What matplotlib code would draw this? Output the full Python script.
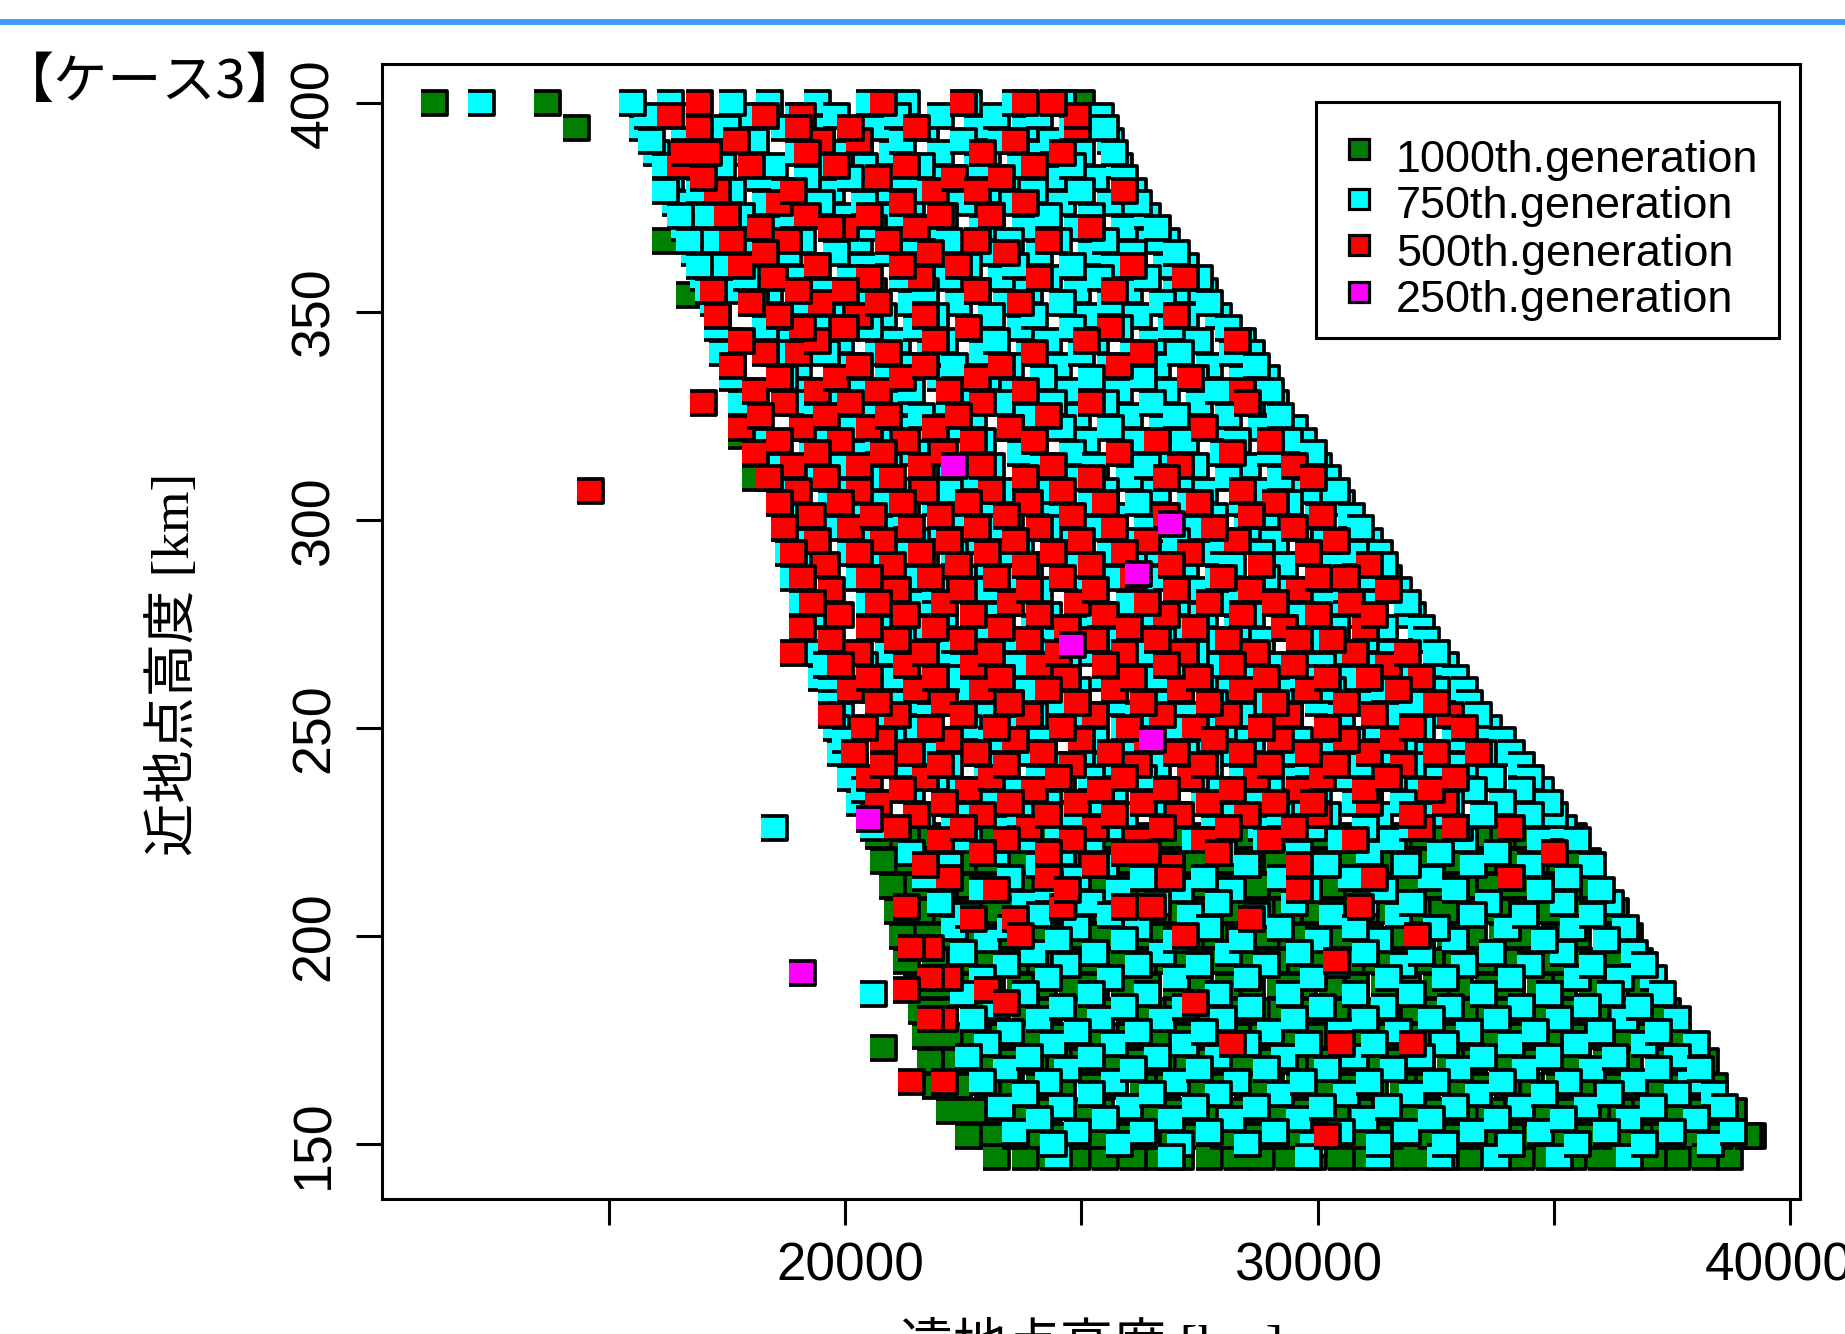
#!/usr/bin/env python3
"""Perigee / apogee altitude scatter by GA generation (case 3)."""

import matplotlib
matplotlib.use('Agg')
import matplotlib.pyplot as plt
from matplotlib.lines import Line2D
from matplotlib.markers import MarkerStyle
from matplotlib.patches import Rectangle
from matplotlib.transforms import ScaledTranslation

# apogee values are kept in hundreds of km, perigee values in km
# each *_y entry is one perigee level, *_x the apogee values read at that level
green_y = [400, 394, 367, 354, 320, 310, 224, 218, 212, 206, 200, 194, 188, 182, 176, 173, 170, 164, 158, 152, 147]
green_x = [
    [113, 137, 250],
    [143],
    [162],
    [167],
    [178],
    [181],
    [207, 213, 218, 224, 229, 235, 240, 246, 251, 257, 262, 268, 273, 279, 284, 290, 295, 301, 306, 312, 317, 323, 328, 334, 339, 345, 350, 354],
    [208, 214, 219, 225, 230, 236, 242, 247, 253, 258, 264, 269, 275, 280, 286, 291, 297, 302, 308, 313, 319, 324, 330, 335, 341, 346, 352, 357],
    [210, 215, 221, 226, 232, 237, 243, 248, 254, 259, 265, 270, 276, 281, 287, 292, 298, 303, 309, 314, 320, 325, 331, 336, 342, 347, 353, 358],
    [211, 216, 222, 228, 233, 239, 244, 250, 255, 261, 266, 272, 277, 283, 288, 294, 299, 305, 310, 316, 321, 327, 332, 338, 343, 349, 354, 360, 363],
    [212, 218, 223, 229, 234, 240, 245, 251, 256, 262, 267, 273, 278, 284, 289, 295, 300, 306, 311, 317, 322, 328, 333, 339, 344, 350, 355, 361, 366],
    [213, 219, 225, 230, 236, 241, 247, 252, 258, 263, 269, 274, 280, 285, 291, 296, 302, 307, 313, 318, 324, 329, 335, 340, 346, 351, 357, 362, 368],
    [215, 220, 226, 231, 237, 242, 248, 253, 259, 264, 270, 275, 281, 286, 292, 297, 303, 308, 314, 319, 325, 330, 336, 341, 347, 352, 358, 363, 368, 371],
    [216, 221, 227, 232, 238, 243, 249, 254, 260, 265, 271, 276, 282, 287, 293, 298, 304, 309, 315, 320, 326, 331, 337, 342, 348, 353, 359, 364, 370, 374],
    [217, 222, 228, 233, 239, 244, 250, 255, 261, 266, 272, 277, 283, 288, 294, 299, 305, 310, 316, 321, 327, 332, 338, 343, 349, 354, 360, 365, 371, 376],
    [208],
    [218, 223, 229, 234, 240, 245, 251, 256, 262, 267, 273, 278, 284, 289, 295, 300, 306, 311, 317, 322, 328, 333, 339, 344, 350, 355, 361, 366, 372, 377, 382],
    [219, 224, 230, 235, 241, 246, 252, 257, 263, 268, 274, 279, 285, 290, 296, 301, 307, 312, 318, 323, 329, 334, 340, 345, 351, 356, 362, 367, 373, 378, 384],
    [222, 227, 232, 238, 243, 249, 254, 260, 265, 271, 276, 282, 287, 293, 298, 304, 309, 315, 320, 326, 331, 337, 342, 348, 353, 359, 364, 370, 375, 381, 386, 388],
    [226, 231, 236, 242, 247, 253, 258, 264, 269, 275, 280, 286, 291, 297, 302, 308, 313, 319, 324, 330, 335, 341, 346, 352, 357, 363, 368, 374, 379, 385, 391, 392],
    [232, 238, 244, 249, 255, 261, 266, 271, 277, 283, 288, 294, 299, 305, 310, 316, 321, 327, 332, 338, 343, 349, 354, 360, 365, 371, 376, 382, 387],
]

cyan_y = [400, 397, 394, 391, 388, 385, 382, 379, 376, 373, 370, 367, 364, 361, 358, 355, 352, 349, 346, 343, 340, 337, 334, 331, 328, 325, 322, 319, 316, 313,
          310, 307, 304, 301, 298, 295, 292, 289, 286, 283, 280, 277, 274, 271, 268, 265, 262, 259, 256, 253, 250, 247, 244, 241, 238, 235, 232, 229, 226,
          223, 220, 217, 214, 211, 208, 205, 202, 199, 196, 193, 190, 186, 183, 180, 177, 174, 171, 168, 165, 162, 159, 156, 153, 150, 147]
cyan_x = [
    [123, 155, 163, 176, 184, 194, 205, 213, 226, 236, 246],
    [158, 168, 179, 190, 198, 211, 220, 232, 241, 254],
    [157, 166, 175, 187, 195, 207, 217, 228, 238, 248, 255],
    [159, 171, 181, 193, 203, 212, 225, 233, 244, 256],
    [160, 168, 179, 190, 199, 210, 220, 230, 241, 250, 257],
    [162, 168, 174, 185, 195, 204, 216, 228, 237, 248, 258],
    [163, 170, 182, 192, 201, 213, 222, 234, 244, 253, 259],
    [162, 169, 176, 187, 197, 209, 218, 230, 240, 250, 261],
    [164, 173, 183, 195, 204, 214, 225, 236, 246, 256, 262],
    [165, 171, 178, 189, 199, 211, 221, 231, 243, 252, 264],
    [166, 175, 186, 197, 206, 217, 229, 238, 249, 259, 266],
    [167, 173, 180, 191, 203, 213, 222, 235, 245, 255, 265, 268],
    [168, 177, 188, 198, 209, 220, 230, 241, 252, 261, 270],
    [169, 175, 182, 193, 204, 216, 226, 236, 248, 257, 268, 272],
    [170, 179, 190, 201, 212, 222, 233, 243, 254, 264, 275],
    [171, 177, 184, 196, 206, 217, 228, 239, 249, 260, 270, 276],
    [172, 181, 192, 203, 214, 224, 234, 246, 256, 267, 277],
    [173, 186, 197, 208, 219, 231, 240, 251, 262, 272, 279],
    [173, 183, 194, 205, 215, 227, 237, 248, 258, 269, 281],
    [175, 188, 199, 211, 221, 232, 243, 253, 265, 275, 284],
    [174, 185, 196, 207, 218, 229, 239, 250, 261, 271, 282, 286],
    [176, 190, 201, 212, 223, 235, 245, 256, 266, 277, 287],
    [176, 187, 198, 209, 220, 230, 242, 252, 263, 274, 284, 289],
    [178, 192, 203, 214, 225, 236, 247, 258, 268, 279, 290],
    [178, 189, 200, 211, 222, 233, 244, 255, 265, 275, 286, 291],
    [180, 194, 205, 216, 227, 238, 249, 260, 270, 281, 292],
    [180, 191, 202, 213, 224, 235, 246, 256, 267, 278, 288, 295],
    [182, 196, 207, 218, 229, 240, 251, 262, 272, 283, 294, 297],
    [182, 193, 204, 215, 226, 237, 248, 258, 269, 280, 290, 299],
    [184, 198, 209, 220, 231, 242, 253, 264, 274, 285, 296, 300],
    [184, 195, 206, 217, 228, 239, 250, 260, 271, 281, 292, 302],
    [186, 200, 211, 222, 233, 244, 255, 266, 276, 287, 298, 304],
    [186, 197, 208, 219, 230, 241, 252, 262, 273, 284, 294, 305],
    [187, 202, 213, 224, 235, 246, 257, 268, 278, 289, 300, 307],
    [187, 199, 210, 221, 232, 243, 254, 264, 275, 285, 296, 309],
    [189, 204, 215, 226, 237, 248, 259, 270, 280, 291, 302, 311],
    [188, 201, 212, 223, 234, 245, 256, 266, 277, 288, 298, 308, 313],
    [190, 206, 217, 228, 239, 250, 261, 272, 282, 293, 304, 314],
    [189, 203, 214, 225, 236, 247, 258, 268, 279, 289, 300, 310, 315],
    [191, 208, 219, 230, 241, 252, 263, 274, 284, 295, 306, 317],
    [191, 205, 216, 227, 238, 249, 260, 270, 281, 292, 302, 312, 319],
    [193, 210, 221, 232, 243, 254, 265, 276, 286, 297, 308, 320],
    [193, 207, 218, 229, 240, 251, 262, 272, 283, 293, 304, 314, 322],
    [195, 212, 223, 234, 245, 256, 267, 278, 288, 299, 310, 323],
    [194, 209, 220, 231, 242, 253, 264, 274, 285, 296, 306, 316, 325],
    [196, 204, 214, 225, 236, 247, 258, 269, 280, 290, 301, 312, 327],
    [195, 211, 222, 233, 244, 255, 266, 276, 287, 297, 308, 318, 329],
    [197, 206, 216, 227, 238, 249, 260, 271, 282, 292, 303, 314, 325, 331],
    [197, 213, 224, 235, 246, 257, 268, 278, 289, 300, 310, 320, 332],
    [199, 208, 218, 229, 240, 251, 262, 273, 284, 294, 305, 316, 327, 334],
    [198, 215, 226, 237, 248, 259, 270, 280, 291, 302, 312, 322, 336],
    [200, 210, 220, 231, 242, 253, 264, 275, 286, 296, 307, 318, 329, 339],
    [199, 217, 228, 239, 250, 261, 272, 282, 293, 304, 314, 324, 335, 341],
    [202, 212, 222, 233, 244, 255, 266, 277, 288, 298, 309, 320, 331, 343],
    [201, 219, 230, 241, 252, 263, 274, 284, 295, 306, 316, 326, 337, 345],
    [204, 214, 224, 235, 246, 257, 268, 279, 290, 300, 311, 322, 333, 343, 347],
    [203, 221, 232, 243, 254, 265, 276, 286, 297, 308, 318, 328, 339, 349],
    [206, 216, 226, 237, 248, 259, 270, 281, 292, 302, 313, 324, 335, 345, 350],
    [185, 206, 223, 234, 245, 256, 267, 278, 288, 299, 310, 320, 330, 341, 352],
    [226, 238, 252, 263, 274, 289, 305, 316, 331, 347, 355],
    [214, 232, 246, 259, 280, 296, 311, 326, 338, 350],
    [222, 241, 255, 268, 285, 302, 319, 333, 345, 358],
    [217, 235, 249, 263, 276, 292, 307, 324, 341, 353],
    [229, 243, 258, 271, 282, 298, 314, 329, 347, 360],
    [220, 238, 252, 266, 279, 295, 310, 320, 336, 352, 362],
    [226, 241, 256, 273, 287, 303, 317, 333, 344, 358],
    [223, 235, 249, 262, 277, 292, 308, 325, 340, 354, 365],
    [230, 245, 259, 270, 284, 300, 313, 329, 348, 361],
    [225, 240, 253, 267, 281, 296, 310, 322, 337, 352, 367],
    [234, 247, 262, 275, 289, 304, 318, 331, 345, 358, 369],
    [221, 229, 243, 256, 270, 285, 299, 315, 327, 341, 355, 364, 371],
    [206, 225, 238, 252, 264, 279, 294, 308, 320, 335, 349, 362, 373],
    [232, 246, 259, 272, 286, 301, 314, 328, 343, 357, 368],
    [227, 241, 254, 267, 280, 295, 310, 324, 338, 351, 365, 376],
    [235, 249, 262, 276, 290, 305, 317, 332, 346, 360, 372],
    [230, 244, 257, 272, 285, 298, 312, 327, 341, 355, 369, 380],
    [226, 239, 252, 266, 279, 293, 308, 322, 335, 349, 363, 376],
    [234, 247, 261, 275, 289, 302, 316, 330, 344, 358, 372, 381],
    [229, 243, 257, 270, 283, 297, 311, 325, 339, 353, 367, 379],
    [238, 252, 265, 279, 292, 306, 320, 334, 348, 362, 376, 384],
    [233, 246, 260, 274, 287, 301, 315, 329, 343, 357, 371, 386],
    [241, 255, 269, 282, 296, 310, 324, 338, 352, 366, 380],
    [236, 249, 263, 277, 291, 305, 319, 333, 347, 361, 375, 388],
    [244, 258, 271, 285, 299, 313, 327, 341, 355, 369, 383],
    [245, 269, 298, 313, 326, 338, 351, 366],
]

red_y = [400, 397, 394, 391, 388, 385, 382, 379, 376, 373, 370, 367, 364, 361, 358, 355, 352, 349, 346, 343, 340, 337, 334, 331, 328, 325, 322, 319, 316, 313,
         310, 307, 304, 301, 298, 295, 292, 289, 286, 283, 280, 277, 274, 271, 268, 265, 262, 259, 256, 253, 250, 247, 244, 241, 238, 235, 232, 229, 226, 223,
         220, 217, 214, 211, 207, 204, 200, 197, 194, 190, 187, 184, 180, 174, 165, 152]
red_x = [
    [169, 208, 225, 238, 244],
    [163, 183, 191, 249],
    [169, 190, 201, 215, 249],
    [177, 203, 236, 195],
    [166, 171, 192, 229, 246],
    [165, 180, 198, 213, 240],
    [170, 207, 223, 233],
    [173, 189, 219, 259, 228],
    [186, 212, 238],
    [175, 192, 205, 231, 220],
    [182, 200, 215, 197, 252],
    [176, 188, 209, 228, 243],
    [183, 218, 234],
    [178, 194, 212, 224, 261],
    [185, 205, 216, 241, 272],
    [172, 190, 200, 228, 257],
    [180, 195, 207, 237],
    [173, 186, 203, 217, 270],
    [191, 200, 226, 256],
    [178, 194, 219, 251, 283],
    [183, 190, 209, 240, 263],
    [176, 203, 217, 233, 258],
    [186, 198, 212, 228, 273],
    [181, 194, 207, 222, 238, 284],
    [170, 187, 201, 229, 252, 285],
    [182, 196, 209, 224, 243],
    [178, 191, 205, 219, 235, 276],
    [186, 199, 213, 227, 240, 266, 290],
    [181, 194, 208, 221, 258, 282],
    [189, 203, 216, 229, 244, 271, 295],
    [184, 196, 210, 238, 252, 268, 299],
    [146, 190, 203, 217, 231, 246, 284],
    [186, 199, 212, 226, 239, 255, 275, 291],
    [193, 206, 220, 234, 248, 268, 286, 301],
    [187, 201, 214, 228, 241, 257, 278, 295],
    [194, 208, 222, 236, 250, 264, 283, 304],
    [189, 203, 216, 230, 244, 259, 273, 298],
    [196, 210, 224, 238, 252, 269, 288, 311],
    [191, 205, 218, 232, 246, 261, 280, 300, 306],
    [197, 211, 225, 239, 253, 270, 286, 296, 315],
    [193, 207, 221, 235, 249, 264, 277, 291, 307],
    [199, 213, 227, 241, 255, 268, 284, 300, 312],
    [191, 205, 219, 233, 247, 260, 274, 293, 310],
    [197, 211, 225, 239, 253, 266, 281, 296, 303],
    [189, 203, 217, 231, 245, 259, 272, 287, 308, 319],
    [199, 213, 227, 241, 255, 268, 282, 295, 315],
    [205, 219, 233, 247, 261, 275, 289, 302, 311, 322],
    [201, 215, 229, 243, 257, 271, 284, 298, 317],
    [207, 221, 235, 249, 263, 277, 291, 306, 325],
    [197, 211, 225, 239, 253, 267, 281, 294, 312, 328],
    [204, 218, 232, 246, 260, 274, 288, 302, 320, 331],
    [208, 222, 236, 250, 264, 278, 292, 306, 316],
    [202, 214, 228, 242, 256, 270, 284, 298, 311, 325, 334],
    [208, 220, 234, 248, 262, 276, 290, 304, 318],
    [205, 217, 231, 245, 259, 273, 287, 301, 315, 329],
    [212, 226, 240, 254, 268, 282, 296, 310, 324],
    [207, 221, 235, 249, 263, 277, 291, 299, 311, 327],
    [215, 229, 243, 257, 271, 285, 300, 320],
    [211, 225, 239, 253, 267, 281, 295, 322, 329, 341],
    [220, 234, 248, 262, 276, 290, 308],
    [229, 243, 259, 264, 279, 350],
    [217, 269, 253, 296],
    [222, 243, 269, 312, 341],
    [232, 296, 247],
    [213, 265, 259, 246, 309],
    [227, 236, 286],
    [237, 272, 321],
    [214, 218],
    [304],
    [222, 218],
    [213, 230],
    [234, 274],
    [221, 218],
    [282, 305, 320],
    [214, 221],
    [302],
]

magenta_y = [313, 299, 287, 270, 247, 228, 191]
magenta_x = [[223], [269], [262], [248], [265], [205], [191]]

xticks = [15000, 20000, 25000, 30000, 35000, 40000]
xticklabels = ['', '20000', '', '30000', '', '40000']
yticks = [150, 200, 250, 300, 350, 400]

legend_labels = ['1000th.generation', '750th.generation', '500th.generation', '250th.generation']
legend_colors = ['#008000', '#00ffff', '#ff0000', '#ff00ff']

plt.rcParams['font.family'] = ['Liberation Sans', 'Noto Sans CJK JP']

W, H = 1845, 1334
fig = plt.figure(figsize=(W / 100, H / 100), dpi=100)
ax = fig.add_axes([382 / W, 1 - 1199 / H, (1800 - 382) / W, (1199 - 63.5) / H])

mark = MarkerStyle([(-1.1, -1), (1.1, -1), (1.1, 1), (-1.1, 1)], joinstyle='miter')


def draw_series(rows_y, rows_x, color, zorder):
    xs, ys = [], []
    for y, row in zip(rows_y, rows_x):
        xs += [v * 100 for v in row]
        ys += [y] * len(row)
    # mixed draw order so the marks do not stack like roof tiles row by row
    order = sorted(range(len(xs)), key=lambda i: (i * 7919) % len(xs))
    ax.scatter([xs[i] for i in order], [ys[i] for i in order], s=365, marker=mark, c=color,
               edgecolors='black', linewidths=2.7, zorder=zorder, clip_on=False)


draw_series(green_y, green_x, '#008000', 2)
draw_series(cyan_y, cyan_x, '#00ffff', 3)
draw_series(red_y, red_x, '#ff0000', 4)
draw_series(magenta_y, magenta_x, '#ff00ff', 5)

ax.set_xlim(10201, 40211)
ax.set_ylim(136.8, 409.6)
ax.set_xticks(xticks, xticklabels, fontsize=38.2)
ax.set_yticks(yticks, yticks, fontsize=38.6, rotation=90, va='center')
ax.tick_params(axis='both', length=18.7, width=2.2, pad=12)
for spine in ax.spines.values():
    spine.set_linewidth(2.2)
# the labels do not sit quite centred under their ticks in the original
for lab, dx in zip(ax.get_xticklabels(), [0, 5, 0, -9, 0, -11]):
    lab.set_transform(lab.get_transform() + ScaledTranslation(dx / 100, 0, fig.dpi_scale_trans))

# legend drawn by hand, its rows are not evenly placed in the box
fig.add_artist(Rectangle((1316 / W, 1 - 338 / H), (1779 - 1316) / W, (338 - 102) / H, transform=fig.transFigure,
                         fc='white', ec='black', lw=2.2, zorder=6))
for label, color, my, ty in zip(legend_labels, legend_colors, [149, 199, 245, 292], [172, 218, 266, 312]):
    fig.add_artist(Line2D([1359 / W], [1 - my / H], ls='', marker='s', ms=14, mew=2.3, mec='black', mfc=color,
                          transform=fig.transFigure, zorder=7))
    fig.text(1396 / W, 1 - ty / H, label, fontsize=32.4, va='baseline', zorder=7)

label_font = ['Liberation Serif', 'Noto Sans CJK JP']
fig.text(174 / W, 1 - 664 / H, '近地点高度 [km]', rotation=90, fontsize=38.3, family=label_font, ha='center', va='center')
fig.text(1092 / W, 1 - 1362 / H, '遠地点高度 [km]', fontsize=38.3, family=label_font, ha='center', va='baseline')
fig.text(0, 1 - 82 / H, '【ケース3】', fontsize=39, family=['Noto Sans CJK JP'], ha='left', va='center')
fig.add_artist(Line2D([0, 1], [1 - 22 / H, 1 - 22 / H], color='#3f9bff', lw=4.3, transform=fig.transFigure))

fig.savefig('out.png', dpi=100)
